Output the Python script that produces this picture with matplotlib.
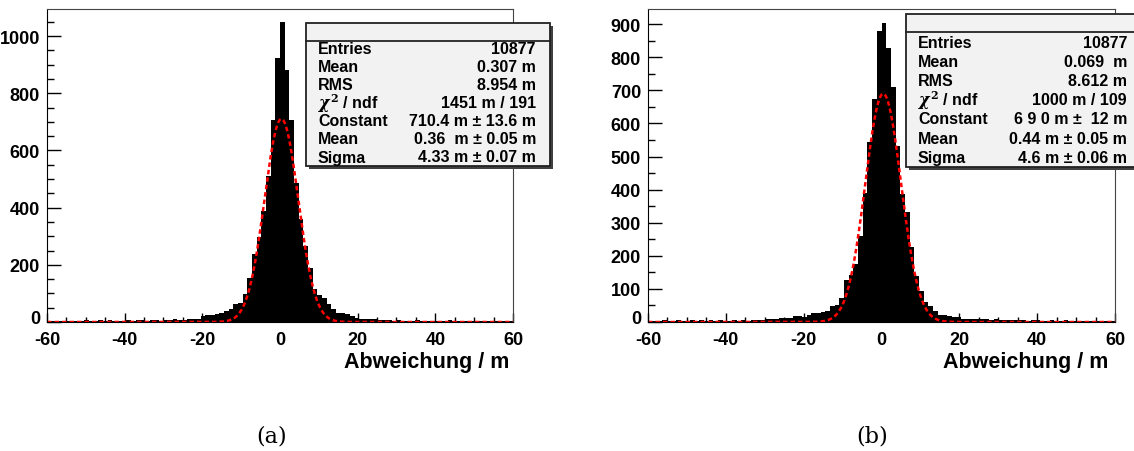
import matplotlib.pyplot as plt
import numpy as np
from matplotlib.patches import Rectangle
from matplotlib.lines import Line2D
from matplotlib.ticker import MultipleLocator, FuncFormatter

plt.rcParams['font.family'] = ['Liberation Sans', 'DejaVu Sans']
plt.rcParams['font.weight'] = 'bold'
plt.rcParams['mathtext.fontset'] = 'dejavuserif'
plt.rcParams['axes.unicode_minus'] = False

# 100 bins from -60 to 60 m
edges = np.linspace(-60, 60, 101)

counts_a = [2, 3, 5, 4, 3, 5, 4, 3, 6, 4, 5, 7, 4, 6, 5, 3, 4, 6, 5, 7,
            6, 5, 8, 6, 5, 7, 6, 9, 7, 8,
            10, 11, 12, 20, 24, 25, 28, 33, 38, 44,
            64, 68, 97, 155, 237, 298, 390, 510, 705, 925,
            1048, 880, 705, 485, 360, 265, 188, 114, 95, 85,
            64, 44, 30, 33, 28, 21, 14, 12, 10, 9,
            10, 8, 7, 6, 5, 6, 4, 5, 4, 6, 3, 5, 4, 3, 5, 4, 7, 3, 4, 3,
            5, 2, 4, 3, 2, 4, 3, 2, 3, 2]

counts_b = [3, 4, 2, 5, 3, 4, 5, 3, 4, 6, 4, 5, 3, 6, 4, 5, 4, 3, 5, 4,
            6, 4, 5, 6, 5,
            10, 9, 10, 12, 12, 13, 18, 17, 15, 20,
            27, 28, 30, 32, 48, 52, 72, 128, 143, 176,
            260, 390, 544, 675, 878,
            903, 829, 710, 531, 386, 333, 228, 139, 94, 60,
            48, 32, 22, 20, 18, 15, 14, 10, 10, 9,
            10, 9, 8, 7, 8, 6, 5, 7, 5, 6, 5, 4, 6, 5, 4, 3, 5, 4, 3, 5,
            4, 3, 4, 3, 4, 2, 3, 4, 2, 3]

# gaus fit parameters (constant, mean, sigma)
fit_a = (710.4, 0.36, 4.33)
fit_b = (690.0, 0.44, 4.6)

stats_a = [("Entries", "10877"), ("Mean", "0.307 m"), ("RMS", "8.954 m"),
           (r"$\chi^2$ / ndf", "1451 m / 191"), ("Constant", "710.4 m \u00b1 13.6 m"),
           ("Mean", "0.36  m \u00b1 0.05 m"), ("Sigma", "4.33 m \u00b1 0.07 m")]
stats_b = [("Entries", "10877"), ("Mean", "0.069  m"), ("RMS", "8.612 m"),
           (r"$\chi^2$ / ndf", "1000 m / 109"), ("Constant", "6 9 0 m \u00b1  12 m"),
           ("Mean", "0.44 m \u00b1 0.05 m"), ("Sigma", "4.6 m \u00b1 0.06 m")]

W, H = 1134, 452
fig = plt.figure(figsize=(W / 100, H / 100), dpi=100)


def fx(x):
    return x / W


def fy(y):
    return 1 - y / H


def panel(l, t, r, b, counts, fit, ymax, ystep, title_x):
    ax = fig.add_axes([fx(l), fy(b), fx(r - l), (b - t) / H])
    ax.stairs(counts, edges, fill=True, color='black', lw=0)
    xs = np.linspace(-60, 60, 1200)
    c, m, s = fit
    ax.plot(xs, c * np.exp(-0.5 * ((xs - m) / s) ** 2), color='#ff0000',
            lw=1.8, ls=(0, (1.8, 1.2)))
    ax.set_xlim(-60, 60)
    ax.set_ylim(0, ymax)
    ax.xaxis.set_major_locator(MultipleLocator(20))
    ax.xaxis.set_minor_locator(MultipleLocator(5))
    ax.yaxis.set_major_locator(MultipleLocator(ystep))
    ax.yaxis.set_minor_locator(MultipleLocator(ystep / 4 if ystep == 200 else ystep / 2))
    # the y "0" label is placed by hand a little higher, clear of "-60"
    ax.yaxis.set_major_formatter(FuncFormatter(lambda v, p: '' if v == 0 else '%d' % v))
    ax.tick_params(axis='x', which='major', direction='in', length=6.8, width=1,
                   labelsize=13, pad=6.5)
    ax.tick_params(axis='x', which='minor', direction='in', length=3.4, width=1)
    ax.tick_params(axis='y', which='major', direction='in', length=10, width=1,
                   labelsize=13, pad=5)
    ax.tick_params(axis='y', which='minor', direction='in', length=5, width=1)
    for lab in ax.get_xticklabels() + ax.get_yticklabels():
        lab.set_fontweight('bold')
    ax.annotate("0", xy=(0, 0), xycoords='axes fraction', xytext=(-5, 2.5),
                textcoords='offset points', ha='right', va='center',
                fontsize=13, fontweight='bold')
    for sp in ('top', 'right'):
        ax.spines[sp].set_color('#444444')
    ax.text(title_x, -0.125, "Abweichung / m", transform=ax.transAxes,
            ha='right', va='center', fontsize=15.5, fontweight='bold')
    return ax


def statbox(l, t, r, b, head, rows, y0, dy, tx, vx):
    fig.add_artist(Rectangle((fx(l + 2.5), fy(b + 2.5)), fx(r - l), (b - t) / H,
                             transform=fig.transFigure, facecolor='#404040',
                             edgecolor='none', zorder=5))
    fig.add_artist(Rectangle((fx(l), fy(b)), fx(r - l), (b - t) / H,
                             transform=fig.transFigure, facecolor='#f2f2f2',
                             edgecolor='#222222', lw=1.3, zorder=6))
    fig.add_artist(Line2D([fx(l), fx(r)], [fy(head), fy(head)],
                          transform=fig.transFigure, color='#222222', lw=1.3,
                          zorder=7))
    for i, (name, val) in enumerate(rows):
        y = fy(y0 + dy * i)
        fig.text(fx(tx), y, name, ha='left', va='center', fontsize=11.5,
                 fontweight='bold', zorder=8)
        fig.text(fx(vx), y, val, ha='right', va='center', fontsize=11.5,
                 fontweight='bold', zorder=8)


panel(47, 10, 513, 323, counts_a, fit_a, 1095, 200, 0.993)
panel(648, 10, 1115, 323, counts_b, fit_b, 946, 100, 0.985)

statbox(306, 24, 550, 167, 41.7, stats_a, 50, 18, 318, 536)
statbox(906, 14.5, 1160, 168, 33.3, stats_b, 43.5, 19.1, 918, 1127)

fig.text(fx(272), fy(437), "(a)", ha='center', va='center', fontsize=16,
         family='DejaVu Serif', fontweight='normal')
fig.text(fx(872), fy(437), "(b)", ha='center', va='center', fontsize=16,
         family='DejaVu Serif', fontweight='normal')

fig.savefig("out.png", dpi=100)
